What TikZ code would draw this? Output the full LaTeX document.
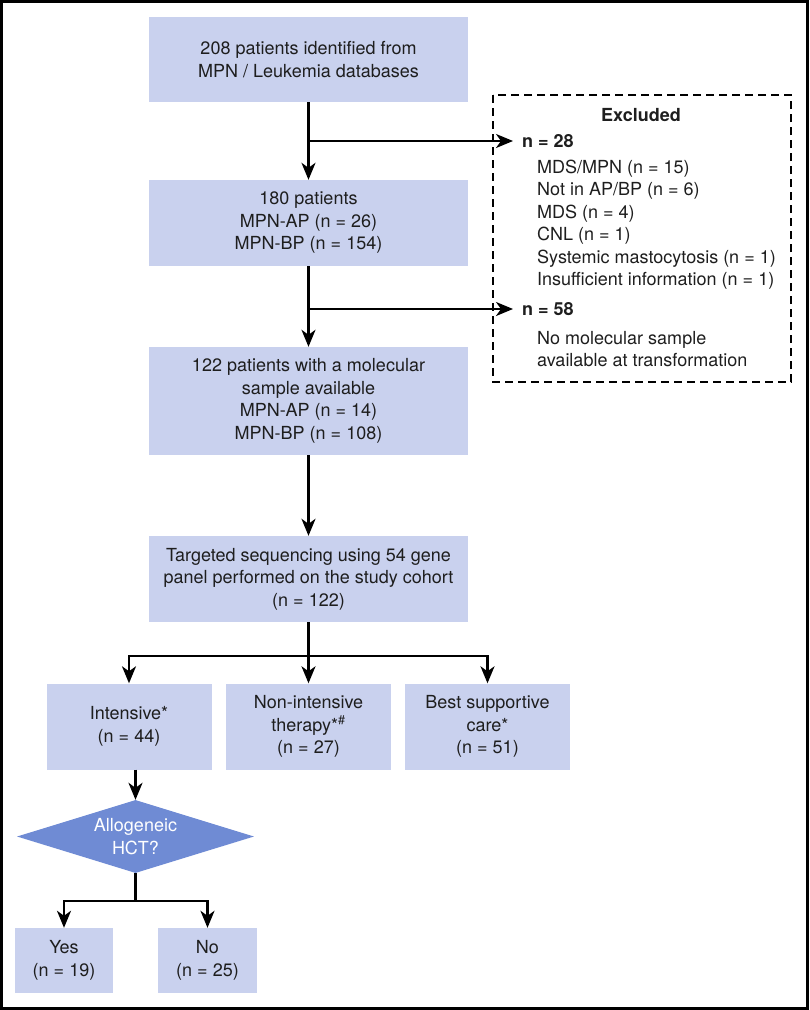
\documentclass[tikz,border=0pt]{standalone}
\usepackage{fontspec}
\setmainfont{TeX Gyre Heros}
\usetikzlibrary{shapes.geometric}
\usetikzlibrary{arrows.meta}
\definecolor{boxblue}{RGB}{201,209,238}
\definecolor{diablue}{RGB}{111,139,212}
\definecolor{txtgray}{RGB}{30,30,30}
\newcommand{\flowfont}{\fontsize{18pt}{22.5pt}\selectfont}
\tikzset{patbox/.style={fill=boxblue, text=txtgray, align=center,
			inner sep=0pt, font=\flowfont},
	decision/.style={shape=diamond, fill=diablue, text=white, align=center,
			inner sep=0pt, aspect=3.25, minimum width=237pt,
			minimum height=73pt, font=\flowfont},
	exlabel/.style={anchor=west, inner sep=0pt, align=left, text=txtgray,
			font=\flowfont},
	flow/.style={-{Stealth[length=17pt,width=14pt,inset=5pt]},
			line width=2.2pt}}

\begin{document}
\begin{tikzpicture}[x=1pt,y=-1pt]
	\useasboundingbox (0,0) rectangle (810,1010);
	\draw[line width=3pt] (1.5,1.5) rectangle (807,1008.5);
	
	% main column
	\node[patbox, minimum width=319pt, minimum height=85pt] (start) at (308.5,59.5)
		{208 patients identified from\\MPN / Leukemia databases};
	\node[patbox, minimum width=319pt, minimum height=86pt] (pts180) at (308.5,223)
		{180 patients\\MPN-AP (n = 26)\\MPN-BP (n = 154)};
	\node[patbox, minimum width=319pt, minimum height=108pt] (pts122) at (308.5,401)
		{122 patients with a molecular\\sample available\\MPN-AP (n = 14)\\MPN-BP (n = 108)};
	\node[patbox, minimum width=319pt, minimum height=86pt] (seq) at (308.5,579)
		{Targeted sequencing using 54 gene\\panel performed on the study cohort\\(n = 122)};
	
	% treatment row
	\node[patbox, minimum width=165pt, minimum height=86pt] (intens) at (129,726.5)
		{Intensive*\\(n = 44)};
	\node[patbox, minimum width=165pt, minimum height=86pt] (nonint) at (308.5,726.5)
		{Non-intensive\\therapy*\textsuperscript{\#}\\(n = 27)};
	\node[patbox, minimum width=165pt, minimum height=86pt] (bsc) at (487.5,726.5)
		{Best supportive\\care*\\(n = 51)};
	
	% transplant
	\node[decision] (dia) at (135.5,836.5) {Allogeneic\\HCT?};
	\node[patbox, minimum width=98pt, minimum height=65pt] (yes) at (64,960.5)
		{Yes\\(n = 19)};
	\node[patbox, minimum width=99pt, minimum height=65pt] (no) at (207.5,960.5)
		{No\\(n = 25)};
	
	% excluded
	\draw[line width=2pt, dash pattern=on 8pt off 5pt] (493,95) rectangle (791,382);
	\node[exlabel, anchor=center, font=\flowfont\bfseries] (exhead) at (641,115) {Excluded};
	\node[exlabel, font=\flowfont\bfseries] (n28) at (522,141) {n = 28};
	\node[exlabel] (ex28) at (537,224.5)
		{MDS/MPN (n = 15)\\Not in AP/BP (n = 6)\\MDS (n = 4)\\CNL (n = 1)\\
		Systemic mastocytosis (n = 1)\\Insufficient information (n = 1)};
	\node[exlabel, font=\flowfont\bfseries] (n58) at (522,309) {n = 58};
	\node[exlabel] (ex58) at (537,349)
		{No molecular sample\\available at transformation};
	
	% connectors
	\draw[flow] (start) -- (pts180);
	\draw[flow] (start.south |- n28) -- ([xshift=-9pt]n28.west);
	\draw[flow] (pts180) -- (pts122);
	\draw[flow] (pts180.south |- n58) -- ([xshift=-9pt]n58.west);
	\draw[flow] (pts122) -- (seq);
	
	\coordinate (split) at (308.5,656);
	\draw[line width=2.2pt] (seq.south) -- (split);
	\draw[flow] (split) -| (intens.north);
	\draw[flow] (split) -- (nonint.north);
	\draw[flow] (split) -| (bsc.north);
	
	\draw[flow] (dia.north |- intens.south) -- (dia.north);
	\coordinate (split2) at (135.5,901);
	\draw[line width=2.2pt] (dia.south) -- (split2);
	\draw[flow] (split2) -| (yes.north);
	\draw[flow] (split2) -| (no.north);
\end{tikzpicture}
\end{document}
